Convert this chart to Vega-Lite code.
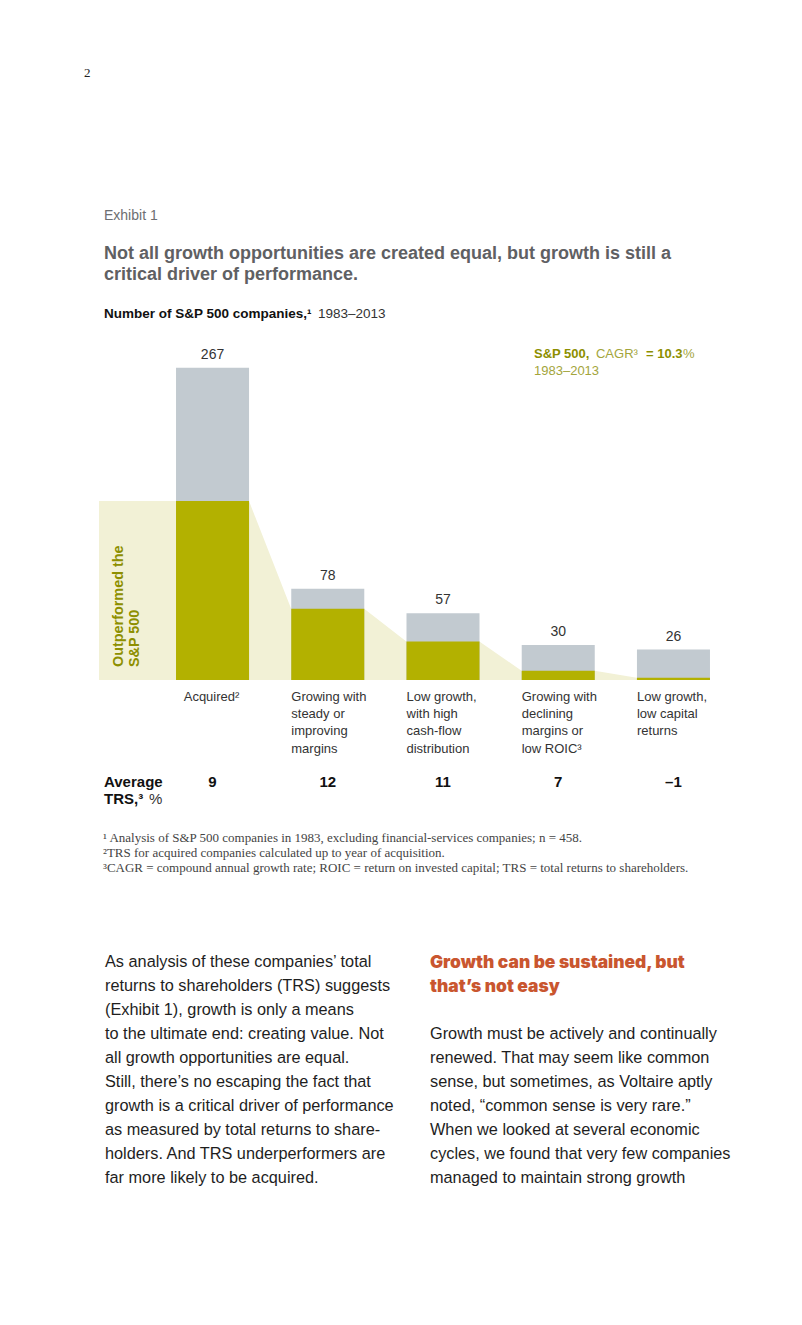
{
  "$schema": "https://vega.github.io/schema/vega-lite/v6.json",
  "background": "white",
  "padding": {"left": 84, "top": 67, "right": 10, "bottom": 10},
  "title": {"text": "2", "anchor": "start", "frame": "group", "dx": -15, "font": "Liberation Serif", "fontSize": 13, "fontWeight": "normal", "color": "#222222", "offset": 129},
  "datasets": {
    "bars": [
      {"cat": "Acquired²", "total": 267, "outperf": 153, "trs": "9"},
      {"cat": "Growing with|steady or|improving|margins", "total": 78, "outperf": 61, "trs": "12"},
      {"cat": "Low growth,|with high|cash-flow|distribution", "total": 57, "outperf": 33, "trs": "11"},
      {"cat": "Growing with|declining|margins or|low ROIC³", "total": 30, "outperf": 8, "trs": "7"},
      {"cat": "Low growth,|low capital|returns", "total": 26, "outperf": 2, "trs": "–1"}
    ],
    "outline": [
      {"x": 0, "y": 153}, {"x": 1.302, "y": 153},
      {"x": 1.668, "y": 61}, {"x": 2.302, "y": 61},
      {"x": 2.668, "y": 33}, {"x": 3.302, "y": 33},
      {"x": 3.668, "y": 8}, {"x": 4.302, "y": 8},
      {"x": 4.668, "y": 2}, {"x": 5.302, "y": 2}
    ]
  },
  "spacing": 24,
  "vconcat": [
    {
      "width": 688,
      "height": 386,
      "title": {
        "text": "Exhibit 1",
        "subtitle": ["Not all growth opportunities are created equal, but growth is still a", "critical driver of performance."],
        "anchor": "start", "frame": "group", "dx": 5,
        "font": "Liberation Sans", "fontSize": 14, "fontWeight": "normal", "color": "#6d6e71",
        "subtitleFont": "Liberation Sans", "subtitleFontSize": 18, "subtitleFontWeight": "bold", "subtitleColor": "#5f6063",
        "subtitleLineHeight": 21, "subtitlePadding": 22, "offset": 10
      },
      "resolve": {"scale": {"x": "independent"}, "axis": {"x": "independent"}},
      "layer": [
        {
          "data": {"name": "outline"},
          "mark": {"type": "area", "color": "#f2f1d6", "interpolate": "linear"},
          "encoding": {
            "x": {"field": "x", "type": "quantitative", "scale": {"domain": [0, 5.9722], "nice": false, "zero": false}, "axis": null},
            "y": {"field": "y", "type": "quantitative", "scale": {"domain": [0, 330], "nice": false}, "axis": null}
          }
        },
        {
          "data": {"name": "bars"},
          "mark": {"type": "bar", "color": "#c2cad0"},
          "encoding": {
            "x": {"field": "cat", "type": "nominal", "sort": null,
              "scale": {"type": "band", "domain": ["Acquired²", "Growing with|steady or|improving|margins", "Low growth,|with high|cash-flow|distribution", "Growing with|declining|margins or|low ROIC³", "Low growth,|low capital|returns"], "paddingInner": 0.3663, "paddingOuter": 0.6684, "round": false},
              "axis": {"orient": "bottom", "title": null, "domain": false, "ticks": false, "labelAngle": 0,
                "labelAlign": {"condition": {"test": "datum.value == 'Acquired²'", "value": "center"}, "value": "left"},
                "labelOffset": {"condition": {"test": "datum.value == 'Acquired²'", "value": -1}, "value": -36.5},
                "labelPadding": 10, "labelFont": "Liberation Sans", "labelFontSize": 13, "labelColor": "#333333",
                "labelLineHeight": 17.4, "labelBaseline": "top", "labelLimit": 300,
                "labelExpr": "split(datum.value, '|')"}},
            "y": {"field": "total", "type": "quantitative", "scale": {"domain": [0, 330], "nice": false}, "axis": null}
          }
        },
        {
          "data": {"name": "bars"},
          "mark": {"type": "bar", "color": "#b3b100"},
          "encoding": {
            "x": {"field": "cat", "type": "nominal", "sort": null,
              "scale": {"type": "band", "domain": ["Acquired²", "Growing with|steady or|improving|margins", "Low growth,|with high|cash-flow|distribution", "Growing with|declining|margins or|low ROIC³", "Low growth,|low capital|returns"], "paddingInner": 0.3663, "paddingOuter": 0.6684, "round": false},
              "axis": null},
            "y": {"field": "outperf", "type": "quantitative", "scale": {"domain": [0, 330], "nice": false}, "axis": null}
          }
        },
        {
          "data": {"name": "bars"},
          "mark": {"type": "text", "baseline": "alphabetic", "dy": -9, "font": "Liberation Sans", "fontSize": 14, "color": "#333333"},
          "encoding": {
            "x": {"field": "cat", "type": "nominal", "sort": null, "bandPosition": 0.5,
              "scale": {"type": "band", "domain": ["Acquired²", "Growing with|steady or|improving|margins", "Low growth,|with high|cash-flow|distribution", "Growing with|declining|margins or|low ROIC³", "Low growth,|low capital|returns"], "paddingInner": 0.3663, "paddingOuter": 0.6684, "round": false},
              "axis": null},
            "y": {"field": "total", "type": "quantitative", "scale": {"domain": [0, 330], "nice": false}, "axis": null},
            "text": {"field": "total", "type": "quantitative"}
          }
        },
        {
          "data": {"name": "bars"},
          "mark": {"type": "text", "baseline": "middle", "font": "Liberation Sans", "fontSize": 15, "fontWeight": "bold", "color": "#111111"},
          "encoding": {
            "x": {"field": "cat", "type": "nominal", "sort": null, "bandPosition": 0.5,
              "scale": {"type": "band", "domain": ["Acquired²", "Growing with|steady or|improving|margins", "Low growth,|with high|cash-flow|distribution", "Growing with|declining|margins or|low ROIC³", "Low growth,|low capital|returns"], "paddingInner": 0.3663, "paddingOuter": 0.6684, "round": false},
              "axis": null},
            "y": {"datum": -87.2, "type": "quantitative", "scale": {"domain": [0, 330], "nice": false}, "axis": null},
            "text": {"field": "trs", "type": "nominal"}
          }
        },
        {
          "data": {"values": [{}]},
          "mark": {"type": "text", "text": ["Outperformed the", "S&P 500"], "angle": 270, "align": "left", "baseline": "middle", "lineHeight": 16, "font": "Liberation Sans", "fontSize": 14.4, "fontWeight": "bold", "color": "#8d8f00"},
          "encoding": {
            "x": {"datum": 0.173, "type": "quantitative", "scale": {"domain": [0, 5.9722], "nice": false, "zero": false}, "axis": null},
            "y": {"datum": 11.1, "type": "quantitative", "scale": {"domain": [0, 330], "nice": false}, "axis": null}
          }
        },
        {
          "data": {"values": [{}]},
          "mark": {"type": "text", "text": "Number of S&P 500 companies,¹", "align": "left", "baseline": "middle", "font": "Liberation Sans", "fontSize": 13.5, "fontWeight": "bold", "color": "#111111"},
          "encoding": {
            "x": {"datum": 0.0434, "type": "quantitative", "scale": {"domain": [0, 5.9722], "nice": false, "zero": false}, "axis": null},
            "y": {"datum": 312.95, "type": "quantitative", "scale": {"domain": [0, 330], "nice": false}, "axis": null}
          }
        },
        {
          "data": {"values": [{}]},
          "mark": {"type": "text", "text": "1983–2013", "align": "left", "baseline": "middle", "font": "Liberation Sans", "fontSize": 13.5, "fontWeight": "normal", "color": "#333333"},
          "encoding": {
            "x": {"datum": 1.901, "type": "quantitative", "scale": {"domain": [0, 5.9722], "nice": false, "zero": false}, "axis": null},
            "y": {"datum": 312.95, "type": "quantitative", "scale": {"domain": [0, 330], "nice": false}, "axis": null}
          }
        },
        {
          "data": {"values": [{}]},
          "mark": {"type": "text", "text": "S&P 500,", "align": "left", "baseline": "middle", "font": "Liberation Sans", "fontSize": 13, "fontWeight": "bold", "color": "#8d8f00"},
          "encoding": {
            "x": {"datum": 3.776, "type": "quantitative", "scale": {"domain": [0, 5.9722], "nice": false, "zero": false}, "axis": null},
            "y": {"datum": 278.45, "type": "quantitative", "scale": {"domain": [0, 330], "nice": false}, "axis": null}
          }
        },
        {
          "data": {"values": [{}]},
          "mark": {"type": "text", "text": "CAGR³", "align": "left", "baseline": "middle", "font": "Liberation Sans", "fontSize": 13, "fontWeight": "normal", "color": "#a3a53c"},
          "encoding": {
            "x": {"datum": 4.314, "type": "quantitative", "scale": {"domain": [0, 5.9722], "nice": false, "zero": false}, "axis": null},
            "y": {"datum": 278.45, "type": "quantitative", "scale": {"domain": [0, 330], "nice": false}, "axis": null}
          }
        },
        {
          "data": {"values": [{}]},
          "mark": {"type": "text", "text": "= 10.3", "align": "left", "baseline": "middle", "font": "Liberation Sans", "fontSize": 13, "fontWeight": "bold", "color": "#8d8f00"},
          "encoding": {
            "x": {"datum": 4.748, "type": "quantitative", "scale": {"domain": [0, 5.9722], "nice": false, "zero": false}, "axis": null},
            "y": {"datum": 278.45, "type": "quantitative", "scale": {"domain": [0, 330], "nice": false}, "axis": null}
          }
        },
        {
          "data": {"values": [{}]},
          "mark": {"type": "text", "text": "%", "align": "left", "baseline": "middle", "font": "Liberation Sans", "fontSize": 13, "fontWeight": "normal", "color": "#a3a53c"},
          "encoding": {
            "x": {"datum": 5.069, "type": "quantitative", "scale": {"domain": [0, 5.9722], "nice": false, "zero": false}, "axis": null},
            "y": {"datum": 278.45, "type": "quantitative", "scale": {"domain": [0, 330], "nice": false}, "axis": null}
          }
        },
        {
          "data": {"values": [{}]},
          "mark": {"type": "text", "text": "1983–2013", "align": "left", "baseline": "middle", "font": "Liberation Sans", "fontSize": 13, "fontWeight": "normal", "color": "#a3a53c"},
          "encoding": {
            "x": {"datum": 3.776, "type": "quantitative", "scale": {"domain": [0, 5.9722], "nice": false, "zero": false}, "axis": null},
            "y": {"datum": 264.15, "type": "quantitative", "scale": {"domain": [0, 330], "nice": false}, "axis": null}
          }
        },
        {
          "data": {"values": [{}]},
          "mark": {"type": "text", "text": "Average", "align": "left", "baseline": "middle", "font": "Liberation Sans", "fontSize": 15, "fontWeight": "bold", "color": "#111111"},
          "encoding": {
            "x": {"datum": 0.0434, "type": "quantitative", "scale": {"domain": [0, 5.9722], "nice": false, "zero": false}, "axis": null},
            "y": {"datum": -87.2, "type": "quantitative", "scale": {"domain": [0, 330], "nice": false}, "axis": null}
          }
        },
        {
          "data": {"values": [{}]},
          "mark": {"type": "text", "text": "TRS,³", "align": "left", "baseline": "middle", "font": "Liberation Sans", "fontSize": 15, "fontWeight": "bold", "color": "#111111"},
          "encoding": {
            "x": {"datum": 0.0434, "type": "quantitative", "scale": {"domain": [0, 5.9722], "nice": false, "zero": false}, "axis": null},
            "y": {"datum": -101.7, "type": "quantitative", "scale": {"domain": [0, 330], "nice": false}, "axis": null}
          }
        },
        {
          "data": {"values": [{}]},
          "mark": {"type": "text", "text": "%", "align": "left", "baseline": "middle", "font": "Liberation Sans", "fontSize": 15, "fontWeight": "normal", "color": "#333333"},
          "encoding": {
            "x": {"datum": 0.434, "type": "quantitative", "scale": {"domain": [0, 5.9722], "nice": false, "zero": false}, "axis": null},
            "y": {"datum": -101.7, "type": "quantitative", "scale": {"domain": [0, 330], "nice": false}, "axis": null}
          }
        }
      ]
    },
    {
      "title": {
        "text": ["¹ Analysis of S&P 500 companies in 1983, excluding financial-services companies; n = 458.", "²TRS for acquired companies calculated up to year of acquisition.", "³CAGR = compound annual growth rate; ROIC = return on invested capital; TRS = total returns to shareholders."],
        "anchor": "start", "frame": "group", "dx": 4,
        "font": "Liberation Serif", "fontSize": 13, "fontWeight": "normal", "color": "#444444", "lineHeight": 15, "offset": 79
      },
      "spacing": 21,
      "hconcat": [
        {
          "width": 310, "height": 1,
          "data": {"values": [{}]},
          "mark": {"type": "text", "text": ""},
          "encoding": {},
          "title": {
            "text": ["As analysis of these companies’ total", "returns to shareholders (TRS) suggests", "(Exhibit 1), growth is only a means", "to the ultimate end: creating value. Not", "all growth opportunities are equal.", "Still, there’s no escaping the fact that", "growth is a critical driver of performance", "as measured by total returns to share-", "holders. And TRS underperformers are", "far more likely to be acquired."],
            "anchor": "start", "frame": "group", "dx": 6,
            "font": "Liberation Sans", "fontSize": 16.3, "fontWeight": "normal", "color": "#1e1e1e", "lineHeight": 24, "offset": 4
          }
        },
        {
          "width": 300, "height": 1,
          "data": {"values": [{}]},
          "mark": {"type": "text", "text": ""},
          "encoding": {},
          "title": {
            "text": ["Growth can be sustained, but", "that’s not easy"],
            "subtitle": ["Growth must be actively and continually", "renewed. That may seem like common", "sense, but sometimes, as Voltaire aptly", "noted, “common sense is very rare.”", "When we looked at several economic", "cycles, we found that very few companies", "managed to maintain strong growth"],
            "anchor": "start", "frame": "group", "dx": 0,
            "font": "Inter", "fontSize": 17.4, "fontWeight": 900, "color": "#c9562f", "lineHeight": 24,
            "subtitleFont": "Liberation Sans", "subtitleFontSize": 16.3, "subtitleFontWeight": "normal", "subtitleColor": "#1e1e1e", "subtitleLineHeight": 24, "subtitlePadding": 31,
            "offset": 4
          }
        }
      ]
    }
  ],
  "config": {"view": {"stroke": null}, "font": "Liberation Sans"}
}
